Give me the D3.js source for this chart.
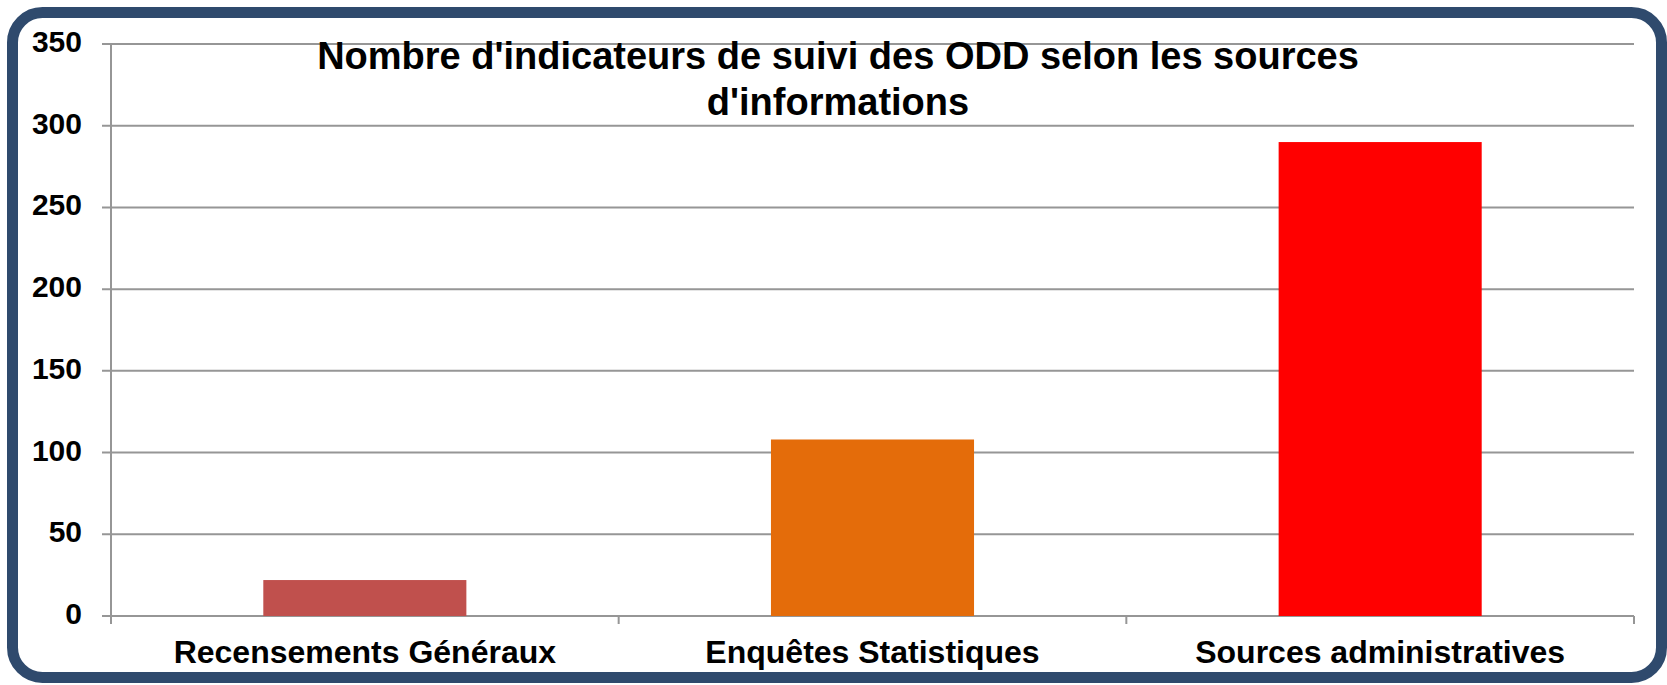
<!DOCTYPE html>
<html>
<head>
<meta charset="utf-8">
<script src="https://cdn.jsdelivr.net/npm/d3@7/dist/d3.min.js"></script>
<style>
  html, body { margin: 0; padding: 0; background: #ffffff; }
  svg { display: block; }
  text { font-family: "Liberation Sans", Arial, sans-serif; font-weight: bold; fill: #000; }
</style>
</head>
<body>
<svg id="chart" width="1667" height="685"></svg>
<script>
const categories = ["Recensements Généraux", "Enquêtes Statistiques", "Sources administratives"];
const values = [22, 108, 290];
const barColors = ["#C0504D", "#E46C0A", "#FF0000"];
const yTicks = [0, 50, 100, 150, 200, 250, 300, 350];
const titleLines = ["Nombre d'indicateurs de suivi des ODD selon les sources", "d'informations"];

const svg = d3.select("#chart");
const W = 1667, H = 685;
const plot = { left: 111, right: 1634, top: 44, bottom: 616 };

// outer rounded frame
svg.append("rect")
  .attr("x", 12.5).attr("y", 12.5)
  .attr("width", 1649).attr("height", 665)
  .attr("rx", 30).attr("ry", 30)
  .attr("fill", "#ffffff")
  .attr("stroke", "#2F4A6D")
  .attr("stroke-width", 11);

const x = d3.scaleBand().domain(categories).range([plot.left, plot.right])
  .paddingInner(0.6).paddingOuter(0.3);
const y = d3.scaleLinear().domain([0, 350]).range([plot.bottom, plot.top]);

// gridlines
svg.append("g").selectAll("line").data(yTicks).join("line")
  .attr("x1", plot.left - 9).attr("x2", plot.right)
  .attr("y1", d => y(d)).attr("y2", d => y(d))
  .attr("stroke", "#969696").attr("stroke-width", 2);

// y axis line
svg.append("line")
  .attr("x1", plot.left).attr("x2", plot.left)
  .attr("y1", plot.top).attr("y2", plot.bottom + 8)
  .attr("stroke", "#969696").attr("stroke-width", 2);

// category ticks at band boundaries
const step = x.step();
const bounds = d3.range(categories.length + 1).map(i => plot.left + i * step);
svg.append("g").selectAll("line").data(bounds).join("line")
  .attr("x1", d => d).attr("x2", d => d)
  .attr("y1", plot.bottom).attr("y2", plot.bottom + 8)
  .attr("stroke", "#969696").attr("stroke-width", 2);

// bars
svg.append("g").selectAll("rect").data(values).join("rect")
  .attr("x", (d, i) => x(categories[i]))
  .attr("width", x.bandwidth())
  .attr("y", d => y(d))
  .attr("height", d => y(0) - y(d))
  .attr("fill", (d, i) => barColors[i]);

// y tick labels
svg.append("g").selectAll("text").data(yTicks).join("text")
  .attr("x", 82).attr("y", d => y(d) + 8)
  .attr("text-anchor", "end")
  .style("font-size", "30px")
  .text(d => d);

// category labels
svg.append("g").selectAll("text").data(categories).join("text")
  .attr("x", d => x(d) + x.bandwidth() / 2)
  .attr("y", 663)
  .attr("text-anchor", "middle")
  .style("font-size", "32px")
  .text(d => d);

// title
svg.append("g").selectAll("text").data(titleLines).join("text")
  .attr("x", 838)
  .attr("y", (d, i) => 69 + i * 46)
  .attr("text-anchor", "middle")
  .style("font-size", "38px")
  .text(d => d);
</script>
</body>
</html>
